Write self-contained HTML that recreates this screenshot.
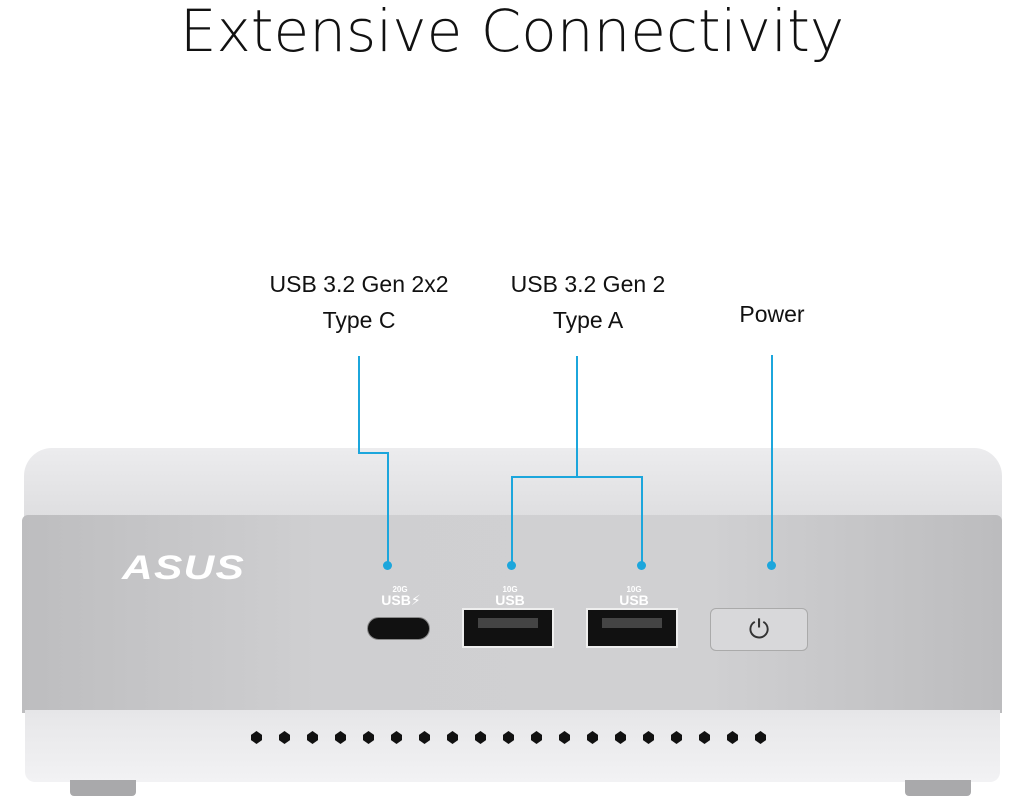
<!DOCTYPE html>
<html><head><meta charset="utf-8"><style>
body{margin:0;width:1024px;height:800px;background:#fff;position:relative;overflow:hidden;font-family:"Liberation Sans","DejaVu Sans",sans-serif}
.a{position:absolute}
.t{position:absolute;color:#111;text-align:center;font-size:23px;line-height:36px}
.c{background:#1ca6dc;position:absolute}
.dot{position:absolute;width:9px;height:9px;border-radius:50%;background:#1ca6dc}
.v{position:absolute;width:11px;height:13px;background:#111;top:731px;clip-path:polygon(50% 0,100% 30%,100% 70%,50% 100%,0 70%,0 30%)}
.usba{position:absolute;width:92px;height:40px;background:#111;border:2px solid #eee;box-sizing:border-box;top:608px}
.usba i{position:absolute;left:14px;right:14px;top:8px;height:10px;background:#444}
.pl{position:absolute;color:#fff;text-align:center;font-weight:bold}
</style></head><body>
<div class="a" style="left:0;width:1024px;top:-3px;text-align:center;font-size:58px;color:#111;font-family:'DejaVu Sans','Liberation Sans',sans-serif;font-weight:200">Extensive Connectivity</div>
<div class="t" style="left:229px;width:260px;top:266px">USB 3.2 Gen 2x2<br>Type C</div>
<div class="t" style="left:458px;width:260px;top:266px">USB 3.2 Gen 2<br>Type A</div>
<div class="t" style="left:672px;width:200px;top:296px">Power</div>
<div class="a" style="left:24px;top:448px;width:978px;height:80px;background:linear-gradient(#ececee,#dcdcde);border-radius:28px 28px 0 0"></div>
<div class="a" style="left:22px;top:515px;width:980px;height:198px;background:linear-gradient(90deg,#bdbdbf,#cfcfd1 30%,#d0d0d2 70%,#bcbcbe);border-radius:6px 6px 0 0"></div>
<div class="a" style="left:25px;top:710px;width:975px;height:72px;background:linear-gradient(#e6e6e8,#f2f2f4);border-radius:0 0 10px 10px"></div>
<div class="a" style="left:70px;top:780px;width:66px;height:16px;background:#a9a9ab;border-radius:0 0 4px 4px"></div>
<div class="a" style="left:905px;top:780px;width:66px;height:16px;background:#a9a9ab;border-radius:0 0 4px 4px"></div>
<div class="a" style="left:122px;top:549px;color:#fff;font-weight:bold;font-style:italic;font-size:34px;letter-spacing:1px;transform:scaleX(1.25);transform-origin:left">ASUS</div>
<div class="pl" style="left:380px;top:585px;width:40px;font-size:8px">20G</div>
<div class="pl" style="left:376px;top:592px;width:50px;font-size:14px">USB⚡</div>
<div class="pl" style="left:490px;top:585px;width:40px;font-size:8px">10G</div>
<div class="pl" style="left:485px;top:592px;width:50px;font-size:14px">USB</div>
<div class="pl" style="left:614px;top:585px;width:40px;font-size:8px">10G</div>
<div class="pl" style="left:609px;top:592px;width:50px;font-size:14px">USB</div>
<div class="a" style="left:367px;top:617px;width:63px;height:23px;background:#111;border-radius:12px;border:1px solid #888;box-sizing:border-box"></div>
<div class="usba" style="left:462px"><i></i></div>
<div class="usba" style="left:586px"><i></i></div>
<div class="a" style="left:710px;top:608px;width:98px;height:43px;background:#d8d8da;border:1px solid #aaa;border-radius:6px;box-sizing:border-box;text-align:center;font-size:26px;line-height:41px;color:#333">⏻</div>
<div class="c" style="left:358px;top:356px;width:2px;height:97px"></div>
<div class="c" style="left:358px;top:452px;width:31px;height:2px"></div>
<div class="c" style="left:387px;top:452px;width:2px;height:112px"></div>
<div class="dot" style="left:383px;top:561px"></div>
<div class="c" style="left:576px;top:356px;width:2px;height:122px"></div>
<div class="c" style="left:511px;top:476px;width:132px;height:2px"></div>
<div class="c" style="left:511px;top:476px;width:2px;height:88px"></div>
<div class="c" style="left:641px;top:476px;width:2px;height:88px"></div>
<div class="dot" style="left:507px;top:561px"></div>
<div class="dot" style="left:637px;top:561px"></div>
<div class="c" style="left:771px;top:355px;width:2px;height:209px"></div>
<div class="dot" style="left:767px;top:561px"></div>
<div class="v" style="left:251px"></div><div class="v" style="left:279px"></div><div class="v" style="left:307px"></div><div class="v" style="left:335px"></div><div class="v" style="left:363px"></div><div class="v" style="left:391px"></div><div class="v" style="left:419px"></div><div class="v" style="left:447px"></div><div class="v" style="left:475px"></div><div class="v" style="left:503px"></div><div class="v" style="left:531px"></div><div class="v" style="left:559px"></div><div class="v" style="left:587px"></div><div class="v" style="left:615px"></div><div class="v" style="left:643px"></div><div class="v" style="left:671px"></div><div class="v" style="left:699px"></div><div class="v" style="left:727px"></div><div class="v" style="left:755px"></div>
</body></html>
